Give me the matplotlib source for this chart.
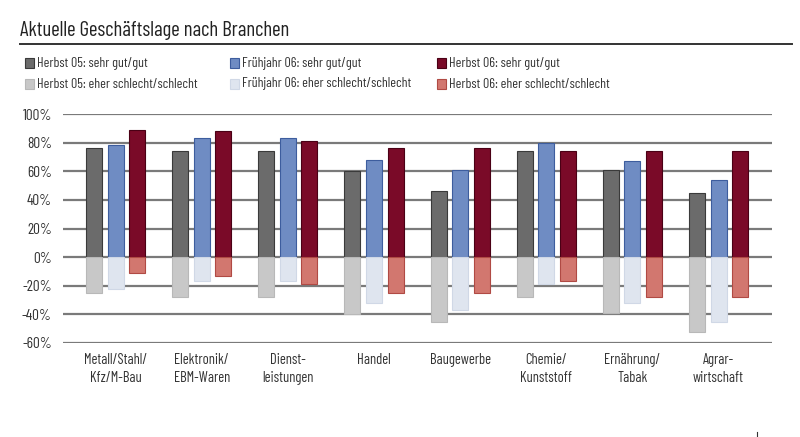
import matplotlib
matplotlib.use("Agg")
import matplotlib.pyplot as plt
from matplotlib.patches import Rectangle
from matplotlib.lines import Line2D
import numpy as np

plt.rcParams['font.family'] = ['Barlow Condensed', 'DejaVu Sans']

title = "Aktuelle Geschäftslage nach Branchen"
categories = ["Metall/Stahl/\nKfz/M-Bau", "Elektronik/\nEBM-Waren", "Dienst-\nleistungen",
              "Handel", "Baugewerbe", "Chemie/\nKunststoff", "Ernährung/\nTabak", "Agrar-\nwirtschaft"]

herbst05_gut = [76, 74, 74, 60, 46, 74, 61, 45]
fruehjahr06_gut = [78, 83, 83, 68, 61, 80, 67, 54]
herbst06_gut = [89, 88, 81, 76, 76, 74, 74, 74]
herbst05_schlecht = [-25, -28, -28, -40, -45, -28, -39, -52]
fruehjahr06_schlecht = [-22, -17, -17, -32, -37, -19, -32, -45]
herbst06_schlecht = [-11, -13, -19, -25, -25, -17, -28, -28]

legend_labels = ["Herbst 05: sehr gut/gut", "Frühjahr 06: sehr gut/gut", "Herbst 06: sehr gut/gut",
                 "Herbst 05: eher schlecht/schlecht", "Frühjahr 06: eher schlecht/schlecht",
                 "Herbst 06: eher schlecht/schlecht"]
yticks = [-60, -40, -20, 0, 20, 40, 60, 80, 100]

pos_series = [herbst05_gut, fruehjahr06_gut, herbst06_gut]
neg_series = [herbst05_schlecht, fruehjahr06_schlecht, herbst06_schlecht]
pos_colors = ["#6b6b6b", "#6f8cc3", "#7a0a28"]
pos_edges = ["#3a3a3a", "#3d5d9e", "#4a0015"]
neg_colors = ["#c8c8c8", "#dfe5ef", "#d2776f"]
neg_edges = ["#b8b8b8", "#d0d8e6", "#b04a44"]

fig = plt.figure(figsize=(8, 4.37), dpi=100)
ax = fig.add_axes([63/800, 1-343/437, (772-63)/800, (343-114)/437])

x = np.arange(len(categories))
w = 0.185
off = 0.25
for i in range(3):
    ax.bar(x + (i-1)*off, pos_series[i], width=w, color=pos_colors[i], edgecolor=pos_edges[i],
           linewidth=0.8, zorder=3)
    ax.bar(x + (i-1)*off, neg_series[i], width=w, color=neg_colors[i], edgecolor=neg_edges[i],
           linewidth=0.8, zorder=3)

ax.set_ylim(-60, 100)
ax.set_xlim(-0.61, 7.62)
ax.set_yticks(yticks)
ax.set_yticklabels([f"{v}%" for v in yticks], fontsize=11, color="#333333")
ax.yaxis.grid(True, color="#7a7a7a", linewidth=1.6, zorder=0)
ax.set_axisbelow(True)
ax.set_xticks(x)
ax.set_xticklabels(categories, fontsize=10.5, color="#333333", linespacing=1.4)
ax.tick_params(axis='both', length=0)
ax.tick_params(axis='y', pad=8)
ax.tick_params(axis='x', pad=7)
for s in ax.spines.values():
    s.set_visible(False)

# title and rule
fig.text(20/800, 1-30/437, title, fontsize=15, color="#222222", va="center", ha="left")
fig.add_artist(Line2D([20/800, 792/800], [1-44/437, 1-44/437], color="#333333", linewidth=1.4))

# legend
col_x = [25, 230, 437]
row_y = [63, 84]
cols_all = pos_colors + neg_colors
edges_all = pos_edges + neg_edges
for k, lab in enumerate(legend_labels):
    cx = col_x[k % 3]
    cy = row_y[k // 3]
    fig.add_artist(Rectangle((cx/800, 1-(cy+4.5)/437), 9/800, 9/437, facecolor=cols_all[k],
                             edgecolor=edges_all[k], linewidth=0.8, transform=fig.transFigure))
    fig.text((cx+12)/800, 1-cy/437, lab, fontsize=10, color="#333333", va="center", ha="left")

fig.add_artist(Line2D([757/800, 757/800], [0, 5/437], color="#333333", linewidth=0.8))

fig.savefig("out.png", dpi=100, facecolor="white")
